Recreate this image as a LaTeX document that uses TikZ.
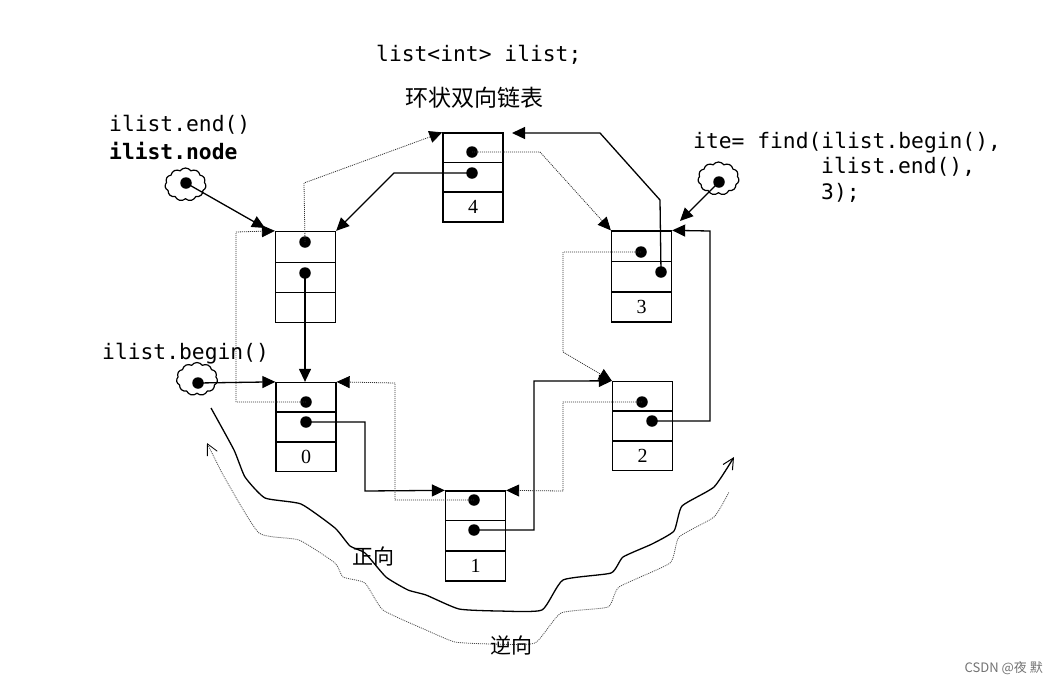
\documentclass[tikz,border=0pt]{standalone}
\usepackage{fontspec}
\setmainfont{Liberation Serif}
\newfontfamily\codefont{DejaVu Sans Mono}
\newfontfamily\cjkfont{Noto Sans CJK SC}
\usetikzlibrary{arrows.meta,shapes.symbols}
\tikzset{
  cell/.style={draw=black,line width=1.3pt,minimum width=60pt,inner sep=0pt,font=\fontsize{20}{20}\selectfont},
  dot/.style={circle,fill=black,inner sep=0pt,minimum size=11.5pt},
  blob/.style={cloud,draw=black,line width=1.2pt,cloud puffs=11,cloud puff arc=110,aspect=1.2,inner sep=0pt,minimum width=41pt,minimum height=33pt},
  solidlink/.style={draw=black,line width=1.3pt,-{Triangle[length=13pt,width=12pt]}},
  dotlink/.style={draw=black!80,line width=0.8pt,dash pattern=on 1pt off 1pt,-{Triangle[length=13pt,width=12pt,color=black]}},
  code/.style={anchor=base west,inner sep=0pt,font=\codefont\fontsize{21.3}{21.3}\selectfont},
  cjk/.style={inner sep=0pt,font=\cjkfont\fontsize{21}{21}\selectfont},
}
\begin{document}
\begin{tikzpicture}[x=1pt,y=-1pt]
\useasboundingbox[fill=white] (0,0) rectangle (1057,683);
% boxes
\foreach \n/\x/\ya/\yb/\yc/\yd/\t in {e/305.5/231.5/262.5/292.5/322.5/,f/473/133/162.5/192/222/4,d/641.5/231/261.5/292/322/3,c/642.5/381.5/411/441/470.5/2,a/306/382.5/412/442/471.5/0,b/475.5/491/520.5/551/581/1}{
  \pgfmathsetmacro\ha{\yb-\ya}\pgfmathsetmacro\hb{\yc-\yb}\pgfmathsetmacro\hc{\yd-\yc}
  \pgfmathsetmacro\ca{(\ya+\yb)/2}\pgfmathsetmacro\cb{(\yb+\yc)/2}\pgfmathsetmacro\cc{(\yc+\yd)/2}
  \node[cell,minimum height=\ha pt] (\n1) at (\x,\ca) {};
  \node[cell,minimum height=\hb pt] (\n2) at (\x,\cb) {};
  \node[cell,minimum height=\hc pt] (\n3) at (\x,\cc) {\t};
}
% dots
\node[dot] (e1d) at (305,242) {};
\node[dot] (e2d) at (305,273) {};
\node[dot] (f1d) at (472,152) {};
\node[dot] (f2d) at (472,173) {};
\node[dot] (d1d) at (641,252) {};
\node[dot] (d2d) at (661,272) {};
\node[dot] (c1d) at (642,402) {};
\node[dot] (c2d) at (652,421) {};
\node[dot] (a1d) at (306,402) {};
\node[dot] (a2d) at (306,422) {};
\node[dot] (b1d) at (474,500) {};
\node[dot] (b2d) at (474,530) {};
% clouds
\node[blob] (cl1) at (185.5,184.5) {};
\node[blob] (cl2) at (197,379) {};
\node[blob] (cl3) at (718.5,178.5) {};
\node[dot] (cl1d) at (186,183) {};
\node[dot] (cl2d) at (198,383) {};
\node[dot] (cl3d) at (719,182) {};
% free ends
\coordinate (t1) at (265,228);
\coordinate (t2) at (512,133);
\coordinate (t3) at (680,221);
% solid links
\draw[solidlink] (f2d.center) -- (394,173) -- (e1.north east);
\draw[solidlink] (cl1d.center) -- (t1);
\draw[solidlink] (e2d.center) -- (e2d.center |- a1.north);
\draw[solidlink] (cl2d.center) -- (a1.north west);
\draw[solidlink] (a2d.center) -- (365,422) -- (365,491) -- (b1.north west);
\draw[solidlink] (b2d.center) -- (534,530) -- (534,381) -- (c1.north west);
\draw[solidlink] (c2d.center) -- (710,421) -- (710,231) -- (d1.north east);
\draw[solidlink] (d2d.center) -- (660,200) -- (600,133) -- (t2);
\draw[solidlink] (cl3d.center) -- (t3);
% dotted links
\draw[dotlink] (e1d.center) -- (304,183) -- (f1.north west);
\draw[dotlink] (a1d.center) -- (236,402) -- (236,232) -- (e1.north west);
\draw[dotlink] (b1d.center) -- (395,500) -- (395,383) -- (a1.north east);
\draw[dotlink] (c1d.center) -- (563,402) -- (563,491) -- (b1.north east);
\draw[dotlink] (d1d.center) -- (563,252) -- (563,352) -- (c1.north west);
\draw[dotlink] (f1d.center) -- (540,152) -- (d1.north west);
% direction curves
\draw[black,line width=1.3pt,line join=round,-{Straight Barb[length=11pt,width=11pt,line width=1pt]}] plot[smooth,tension=0.3] coordinates {(211,408) (234,450) (245,477) (265,498) (301,504) (335,528) (350,546) (365,553) (386,577) (408,590) (426,595) (459,609) (499,611) (542,610) (563,580) (611,573) (623,557) (652,544) (674,531) (682,506) (714,487) (734,457)};
\draw[black!70,line width=0.8pt,dash pattern=on 1pt off 1pt,{Straight Barb[length=11pt,width=11pt,line width=0.8pt,color=black]}-] plot[smooth,tension=0.3] coordinates {(207,443) (226,480) (259,533) (299,540) (335,563) (343,577) (365,583) (383,610) (426,630) (455,642) (492,644) (535,643) (561,613) (608,607) (619,587) (670,563) (679,537) (714,517) (729,492)};
% text
\node[code] (t-list) at (376,61) {list<int> ilist;};
\node[cjk,font=\cjkfont\fontsize{23}{23}\selectfont] (t-title) at (474,98) {环状双向链表};
\node[code] (t-end) at (109,131) {ilist.end()};
\node[code,font=\codefont\bfseries\fontsize{21.3}{21.3}\selectfont] (t-node) at (109,159) {ilist.node};
\node[code] (t-begin) at (102,359) {ilist.begin()};
\node[code] (t-ite1) at (693,148) {ite= find(ilist.begin(),};
\node[code] (t-ite2) at (821,173) {ilist.end(),};
\node[code] (t-ite3) at (821,199) {3);};
\node[cjk] (t-fwd) at (373,556) {正向};
\node[cjk] (t-rev) at (511,645) {逆向};
\node[anchor=base east,inner sep=0pt,text=black!55,font=\cjkfont\fontsize{13}{13}\selectfont] (t-mark) at (1043,672) {CSDN @夜 默};
\end{tikzpicture}
\end{document}
